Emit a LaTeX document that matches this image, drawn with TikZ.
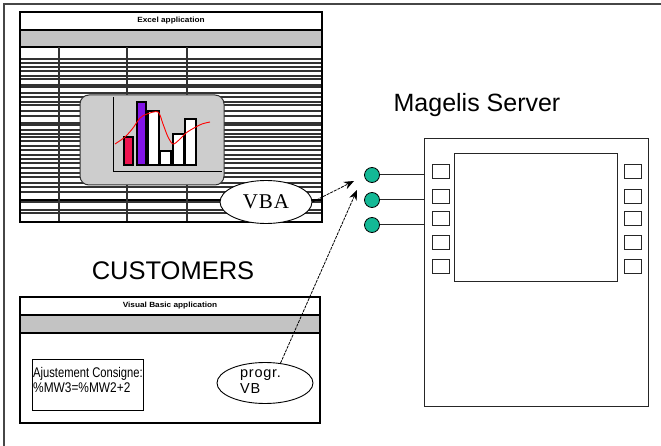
\documentclass[tikz,border=0pt]{standalone}
\usepackage{fontspec}
\usepackage{graphicx}
\setmainfont{Liberation Sans}
\newfontfamily\serifface{Liberation Serif}
\usetikzlibrary{arrows.meta,shapes.geometric}

\definecolor{bandgray}{RGB}{195,195,195}
\definecolor{chartgray}{RGB}{205,205,205}
\definecolor{barred}{RGB}{240,20,80}
\definecolor{barviolet}{RGB}{130,20,230}
\definecolor{portgreen}{RGB}{20,185,150}
\definecolor{framegray}{RGB}{70,70,70}

\tikzset{
  win/.style={draw=black, line width=1.1pt, fill=white},
  band/.style={fill=bandgray, draw=black, line width=1.1pt},
  gridline/.style={draw=black!80, line width=1.2pt},
  bar/.style={draw=black, line width=1.1pt},
  port/.style={circle, draw=black, line width=0.8pt, fill=portgreen, minimum size=15pt, inner sep=0pt},
  key/.style={draw=black!85, line width=1pt, minimum width=17pt, minimum height=14pt, inner sep=0pt},
  link/.style={draw=black, line width=0.8pt, dash pattern=on 3pt off 1pt,
               -{Stealth[length=10pt,width=8pt]}},
  bubble/.style={ellipse, draw=black, line width=0.9pt, fill=white, inner sep=0pt},
  wintitle/.style={font=\fontsize{7.5}{9}\selectfont\bfseries, inner sep=0pt}
}

\begin{document}
\begin{tikzpicture}[x=1pt,y=-1pt]
\useasboundingbox (0,0) rectangle (661,446);

% outer frame (left and top edges)
\draw[framegray, line width=1.4pt] (4,446) -- (4,4) -- (661,4);

% ---------- Excel application window ----------
\draw[win] (20,12) rectangle (322,222);
\node[wintitle] (xltitle) at (171,21) {\scalebox{1.1}[1]{Excel application}};
\draw[band] (20,30) rectangle (322,47);
\draw[black, line width=1.8pt] (20,30) -- (322,30);
% spreadsheet rows
\foreach \yy in {59,63,67,71,76,79,85,87,93,97,102,105,111,116,123,125,130,134,137,141,146,150,155,159,163,168,173,177,183,187,192,202,210,213}
  \draw[gridline] (20,\yy) -- (322,\yy);
\draw[black, line width=2pt] (20,200) -- (322,200);
% spreadsheet columns
\foreach \xx in {59,127,187}
  \draw[gridline] (\xx,47) -- (\xx,222);
\draw[win, fill=none] (20,12) rectangle (322,222);

% chart object
\draw[black!80, line width=1pt, fill=chartgray, rounded corners=9pt] (80,95) rectangle (224,185);
\draw[black, line width=1pt] (113,97) -- (113,172) -- (222,172);
\draw[bar, fill=barred]    (124,137) rectangle (133,165);
\draw[bar, fill=barviolet] (137,102) rectangle (146,165);
\draw[bar, fill=white]     (148,111) rectangle (159,165);
\draw[bar, fill=white]     (160,151) rectangle (171,165);
\draw[bar, fill=white]     (173,134) rectangle (184,165);
\draw[bar, fill=white]     (185,119) rectangle (196,165);
\draw[red, line width=0.9pt] plot[smooth] coordinates
  {(115,144) (125,137) (133,128) (140,118) (147,114) (158,112) (163,124) (168,137) (173,144) (179,140) (186,133) (194,128) (202,124) (210,122)};

% VBA bubble
\node[bubble, minimum width=92pt, minimum height=43pt] (vba) at (266,202)
  {\serifface\fontsize{21}{24}\selectfont\addfontfeature{LetterSpace=4}VBA};

% ---------- Visual Basic application window ----------
\node[font=\fontsize{25.5}{30}\selectfont] (customers) at (173,271) {CUSTOMERS};
\draw[win] (20,297) rectangle (320,423);
\node[wintitle] (vbtitle) at (170,306) {\scalebox{1.1}[1]{Visual Basic application}};
\draw[band] (20,315) rectangle (320,333);
\draw[black, line width=1.8pt] (20,315) -- (320,315);

\node[draw=black, line width=1pt, minimum width=111pt, minimum height=51pt, inner sep=1pt,
      anchor=north west] (adj) at (32,359) {};
\node[anchor=north west, inner sep=0pt, align=left, font=\fontsize{14}{16.5}\selectfont]
  (adjtext) at (33,367) {\scalebox{0.8}[1]{Ajustement Consigne:}\\[-1pt]\scalebox{0.85}[1]{\%MW3=\%MW2+2}};

\node[bubble, minimum width=96pt, minimum height=41pt, fill=none] (vb) at (265,383) {};
\node[anchor=north west, inner sep=0pt, align=left,
      font=\fontsize{14.5}{16.5}\selectfont\addfontfeature{LetterSpace=5}]
  (vbtext) at (240,369) {progr.\\VB};

% ---------- Magelis server ----------
\node[font=\fontsize{25}{30}\selectfont] (magtitle) at (477,105) {Magelis Server};
\node[draw=black!85, line width=1.2pt, minimum width=224pt, minimum height=268pt,
      anchor=north west, inner sep=0pt] (mag) at (424,138) {};
\node[draw=black!85, line width=1.2pt, minimum width=163pt, minimum height=128pt,
      anchor=north west, inner sep=0pt] (screen) at (454,153) {};
\foreach \yy [count=\i] in {172,197,219,243,267} {
  \node[key] (lk\i) at (440.5,\yy) {};
  \node[key] (rk\i) at (633,\yy) {};
}

% communication ports
\node[port] (p1) at (372,175) {};
\node[port] (p2) at (372,200) {};
\node[port] (p3) at (372,225) {};
\foreach \p in {p1,p2,p3}
  \draw[black!85, line width=1pt] (\p.east) -- (\p -| mag.west);

% links from the applications to the server
\coordinate (tipA) at (354,181);
\coordinate (tipB) at (357,190);
\draw[link] (vba.east) -- (tipA);
\draw[link] (vb.52) -- (tipB);

\end{tikzpicture}
\end{document}
